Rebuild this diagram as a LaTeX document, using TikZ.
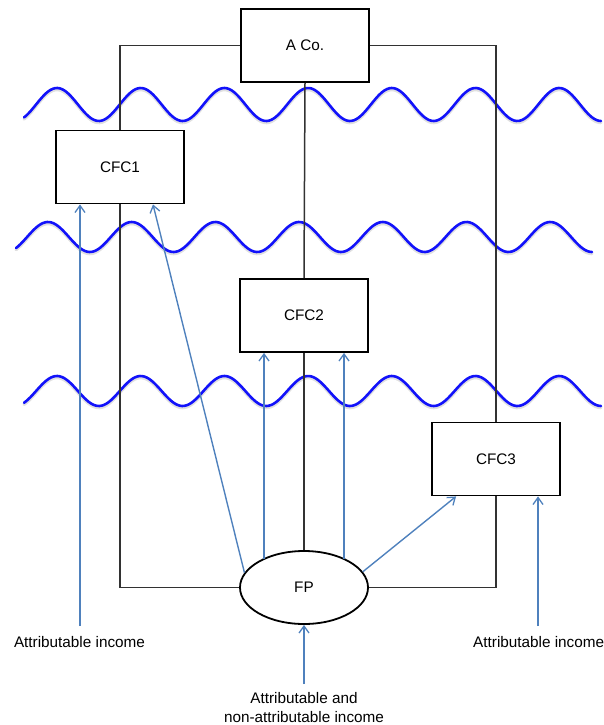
\documentclass[tikz,border=0pt]{standalone}
\usepackage{fontspec}
\setmainfont{Liberation Sans}
\usetikzlibrary{shapes.geometric,arrows.meta,calc}
\definecolor{wavecol}{RGB}{18,18,250}
\definecolor{flowcol}{RGB}{79,129,189}
\definecolor{treecol}{RGB}{50,50,50}
\begin{document}
\begin{tikzpicture}[x=1pt,y=-1pt,
  txt/.style={font=\fontsize{15.3}{19}\selectfont, text=black},
  entity/.style={txt, draw=black, line width=1.8pt, fill=white,
    minimum width=128pt, minimum height=73pt, inner sep=0pt},
  partner/.style={entity, ellipse},
  owner/.style={draw=treecol, line width=1.5pt},
  flow/.style={draw=flowcol, line width=1.4pt,
    -{Straight Barb[length=7pt,width=10pt,line width=1.3pt]}},
  wave/.style={draw=wavecol, line width=2.6pt, line cap=round},
  waveshadow/.style={draw=black!35, opacity=0.35, line width=3pt, line cap=round},
  caption/.style={txt, inner sep=0pt}]

\useasboundingbox (0,0) rectangle (603,725);

% borders drawn as sine waves (period 83.7, i.e. 4.3011 degrees per unit)
\foreach \s/\e/\c/\a/\p in {24/601/104.5/16.5/57, 16/592/237/15/48, 24/601/391/15/57}{
  \draw[waveshadow] plot[domain=\s:\e, samples=260] (\x,{\c+1.8-\a*cos(4.3011*(\x-\p))});
  \draw[wave] plot[domain=\s:\e, samples=260] (\x,{\c-\a*cos(4.3011*(\x-\p))});
}

% entities
\node[entity]  (aco)  at (305,45.5)  {A Co.};
\node[entity]  (cfc1) at (120,167)   {CFC1};
\node[entity]  (cfc2) at (304,315.5) {CFC2};
\node[entity]  (cfc3) at (496,459)   {CFC3};
\node[partner] (fp)   at (304,587.5) {FP};

% ownership structure
\draw[owner] (aco.west) -| (cfc1.north);
\draw[owner] (aco.east) -| (cfc3.north);
\draw[owner] (aco.south) -- (cfc2.north);
\draw[owner] (cfc2.south) -- (fp.north);
\draw[owner] (cfc1.south) |- (fp.west);
\draw[owner] (cfc3.south) |- (fp.east);

% income captions
\node[caption] (incL) at (79.5,642) {Attributable income};
\node[caption, anchor=west] (incR) at (473,642) {Attributable income};
\node[caption, align=center] (incB) at (304,707.5) {Attributable and\\non-attributable income};

\coordinate (tailL) at (80,626);
\coordinate (tailR) at (538,626);
\coordinate (tailB) at (304,684);
% points on the upper rim of FP, 40 units either side of its centre
\coordinate (fpL) at ($(fp.center)+(-40,-28.5)$);
\coordinate (fpR) at ($(fp.center)+(40,-28.5)$);

% income flows
\draw[flow] (tailL) -- (tailL |- cfc1.south);
\draw[flow] (tailR) -- (tailR |- cfc3.south);
\draw[flow] (tailB) -- (fp.south);
\draw[flow] (fp.166.6) -- ($(cfc1.south)+(33,0)$);
\draw[flow] (fpL) -- (fpL |- cfc2.south);
\draw[flow] (fpR) -- (fpR |- cfc2.south);
\draw[flow] (fp.15.9) -- ($(cfc3.south west)+(25,0)$);
\end{tikzpicture}
\end{document}
